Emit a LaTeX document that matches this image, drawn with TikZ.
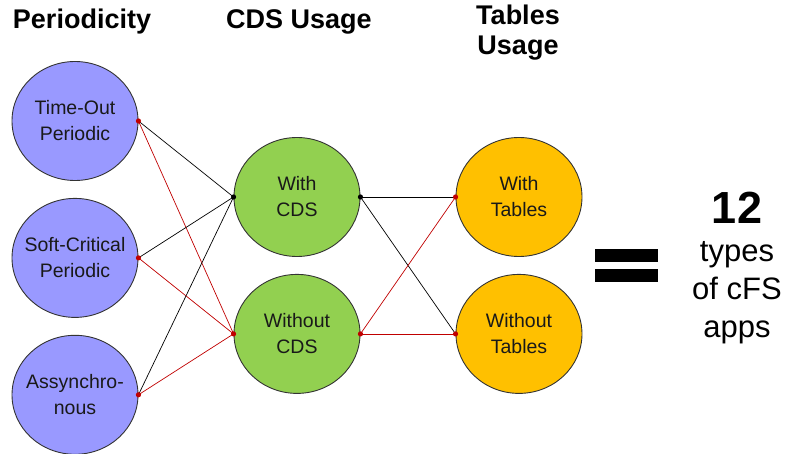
\documentclass[tikz,border=0pt]{standalone}
\usepackage{fontspec}
\setmainfont{Liberation Sans}
\usepackage{tikz}
\usetikzlibrary{shapes.geometric}
\usetikzlibrary{positioning}

\definecolor{perblue}{HTML}{9999FF}
\definecolor{cdsgreen}{HTML}{92D050}
\definecolor{taborange}{HTML}{FFC000}
\definecolor{linkred}{HTML}{C00000}

\tikzstyle{state} = [ellipse, minimum width=126pt, minimum height=119pt, inner sep=-20pt, draw=black!80, line width=0.9pt, text=black!90, align=center, font=\fontsize{19.5}{26}\selectfont]
\tikzstyle{head} = [font=\fontsize{27}{30}\selectfont\bfseries, align=center, text=black]
\tikzstyle{yes} = [draw=black, line width=0.7pt]
\tikzstyle{no} = [draw=linkred, line width=0.7pt]

\begin{document}
\begin{tikzpicture}[x=1pt, y=-1pt, node distance=17pt]
 \useasboundingbox (0,0) rectangle (787,454);

 % headings
 \node (hper) [head] at (82,22) {Periodicity};
 \node (hcds) [head] at (299,22) {CDS Usage};
 \node (htab) [head] at (518,33) {Tables\\Usage};

 % periodicity
 \node (per1) [state, fill=perblue] at (75,121) {Time-Out\\Periodic};
 \node (per2) [state, fill=perblue, below=of per1] {Soft-Critical\\Periodic};
 \node (per3) [state, fill=perblue, below=of per2] {Assynchro-\\nous};

 % cds usage
 \node (cdsw) [state, fill=cdsgreen] at (297,197) {With\\CDS};
 \node (cdsn) [state, fill=cdsgreen, below=of cdsw] {Without\\CDS};

 % tables usage
 \node (tabw) [state, fill=taborange] at (519,197) {With\\Tables};
 \node (tabn) [state, fill=taborange, below=of tabw] {Without\\Tables};

 % links
 \foreach \p in {per1,per2,per3} {
  \draw[yes] (\p.east) -- (cdsw.west);
  \draw[no] (\p.east) -- (cdsn.west);
  \fill[linkred] (\p.east) circle (2.6pt);
 }
 \draw[yes] (cdsw.east) -- (tabw.west);
 \draw[yes] (cdsw.east) -- (tabn.west);
 \draw[no] (cdsn.east) -- (tabw.west);
 \draw[no] (cdsn.east) -- (tabn.west);
 \fill[black] (cdsw.west) circle (2.6pt);
 \fill[black] (cdsw.east) circle (2.6pt);
 \fill[linkred] (cdsn.west) circle (2.6pt);
 \fill[linkred] (cdsn.east) circle (2.6pt);
 \fill[linkred] (tabw.west) circle (2.6pt);
 \fill[linkred] (tabn.west) circle (2.6pt);

 % equals sign
 \fill[black] (595,249) rectangle (658,262);
 \fill[black] (595,269) rectangle (658,282);

 \node (total) [align=center, font=\fontsize{31}{38}\selectfont] at (737,268)
  {{\fontsize{45}{46}\selectfont\bfseries 12}\\types\\of cFS\\apps};
\end{tikzpicture}
\end{document}
